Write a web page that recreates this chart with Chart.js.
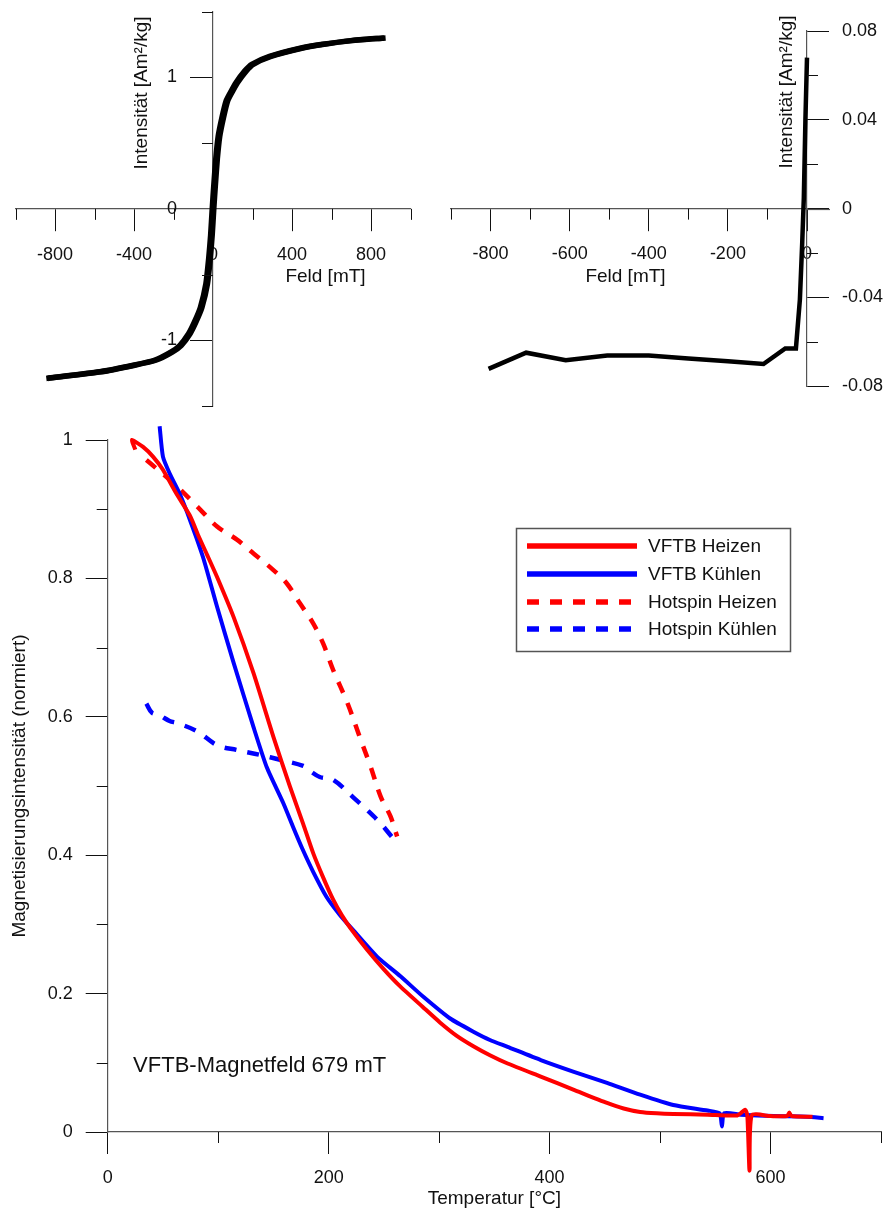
<!DOCTYPE html>
<html>
<head>
<meta charset="utf-8">
<title>Hysterese, Backfield und Thermomagnetik</title>
<script src="https://cdn.jsdelivr.net/npm/chart.js@4.4.0/dist/chart.umd.min.js"></script>
<style>
    html, body { margin: 0; padding: 0; background: #fff; }
    #page { position: relative; width: 888px; height: 1212px; overflow: hidden; background: #fff; }
    canvas { position: absolute; }
    #loopChart { left: 0; top: 0; }
    #backChart { left: 430px; top: 0; }
    #thermoChart { left: 0; top: 410px; }
</style>
</head>
<body>
<div id="page">
    <canvas id="loopChart" width="430" height="410"></canvas>
    <canvas id="backChart" width="458" height="410"></canvas>
    <canvas id="thermoChart" width="888" height="802"></canvas>
</div>
<script>
// --- Hystereseschleife (Feld in mT, Intensität in Am²/kg) ---
const hystDownH = [866, 696, 546, 436, 286, 196, 161, 116, 86, 66, 46, 26, 14, 4, -4, -12, -22, -36, -64, -94, -124, -169, -214, -294, -404, -574, -844];
const hystDownM = [1.30, 1.28, 1.25, 1.22, 1.16, 1.10, 1.05, 0.96, 0.88, 0.82, 0.70, 0.55, 0.38, 0.18, 0.0, -0.20, -0.38, -0.57, -0.75, -0.86, -0.95, -1.04, -1.09, -1.15, -1.19, -1.24, -1.29];
const hystUpH = [-836, -566, -396, -286, -206, -161, -116, -86, -56, -28, -14, -4, 4, 12, 22, 34, 54, 74, 94, 124, 169, 204, 294, 444, 554, 704, 874];
const hystUpM = [-1.29, -1.24, -1.19, -1.15, -1.09, -1.04, -0.95, -0.86, -0.75, -0.57, -0.38, -0.20, 0.0, 0.18, 0.38, 0.55, 0.70, 0.82, 0.88, 0.96, 1.05, 1.10, 1.16, 1.22, 1.25, 1.28, 1.30];
const hystMajorX = [-800, -400, 0, 400, 800];
const hystMinorX = [-1000, -600, -200, 200, 600, 1000];
const hystMajorY = [-1, 0, 1];
const hystMinorY = [-1.5, -0.5, 0.5, 1.5];

// --- Backfield-Kurve ---
const backH = [0, -4, -8, -12, -18, -28, -55, -110, -200, -300, -400, -505, -610, -710, -805];
const backM = [0.068, 0.040, 0.005, -0.015, -0.041, -0.063, -0.063, -0.070, -0.0688, -0.0675, -0.0662, -0.0662, -0.0683, -0.0649, -0.0722];
const backMajorX = [-800, -600, -400, -200, 0];
const backMinorX = [-900, -700, -500, -300, -100];
const backMajorY = [-0.08, -0.04, 0, 0.04, 0.08];
const backMinorY = [-0.06, -0.02, 0.02, 0.06];

// --- Thermomagnetische Kurven (Temperatur in °C, normierte Intensität) ---
const vftbHeatT = [25, 22, 32, 41, 50, 62, 75, 82, 90, 99, 114, 132, 150, 165, 177, 186, 195, 204, 212, 220, 235, 250, 265, 285, 301, 316, 331, 346, 362, 392, 422, 452, 467, 482, 497, 512, 543, 570, 577, 579, 581, 583, 600, 615, 617, 619, 638];
const vftbHeatM = [0.986, 1.0, 0.990, 0.976, 0.957, 0.923, 0.889, 0.862, 0.834, 0.802, 0.744, 0.663, 0.571, 0.499, 0.445, 0.403, 0.368, 0.336, 0.313, 0.294, 0.263, 0.235, 0.210, 0.181, 0.158, 0.139, 0.124, 0.111, 0.099, 0.080, 0.061, 0.042, 0.034, 0.029, 0.027, 0.026, 0.025, 0.024, 0.032, 0.024, -0.056, 0.024, 0.023, 0.023, 0.028, 0.023, 0.022];
const vftbCoolT = [648, 633, 603, 573, 558, 556, 554, 543, 512, 482, 452, 422, 392, 362, 346, 331, 310, 286, 265, 244, 222, 210, 198, 186, 176, 168, 159, 144, 132, 114, 99, 87, 80, 72, 65, 56, 50, 47];
const vftbCoolM = [0.020, 0.022, 0.023, 0.025, 0.027, 0.008, 0.027, 0.031, 0.039, 0.054, 0.071, 0.087, 0.104, 0.123, 0.133, 0.145, 0.164, 0.195, 0.225, 0.253, 0.292, 0.314, 0.340, 0.376, 0.410, 0.440, 0.475, 0.527, 0.585, 0.678, 0.759, 0.827, 0.860, 0.895, 0.923, 0.952, 0.976, 1.02];
const hsHeatT = [35, 60, 81, 99, 117, 132, 150, 162, 174, 186, 195, 204, 217, 229, 238, 247, 256, 262];
const hsHeatM = [0.971, 0.937, 0.904, 0.875, 0.856, 0.836, 0.812, 0.793, 0.764, 0.735, 0.706, 0.668, 0.620, 0.567, 0.528, 0.485, 0.456, 0.427];
const hsCoolT = [257, 247, 235, 222, 204, 192, 183, 177, 156, 138, 117, 99, 81, 63, 56, 46, 40, 35];
const hsCoolM = [0.427, 0.446, 0.465, 0.484, 0.509, 0.513, 0.522, 0.529, 0.538, 0.545, 0.552, 0.559, 0.579, 0.591, 0.594, 0.603, 0.606, 0.619];
const thermoMajorX = [0, 200, 400, 600];
const thermoMinorX = [100, 300, 500, 700];
const thermoMajorY = [0, 0.2, 0.4, 0.6, 0.8, 1];
const thermoMinorY = [0.1, 0.3, 0.5, 0.7, 0.9];

const FONT = "'Liberation Sans', Arial, sans-serif";
const AXIS_COLOR = '#555';
const TICK_COLOR = '#111';
Chart.defaults.font.family = FONT;
Chart.defaults.font.size = 18;
Chart.defaults.color = '#111';

const toPoints = (xs, ys) => xs.map((x, i) => ({ x: x, y: ys[i] }));
const fixedTicks = list => axis => { axis.ticks = list.map(v => ({ value: v })); };

function axisBase(min, max, position, major) {
    return {
        type: 'linear',
        min: min,
        max: max,
        position: position,
        grid: { drawOnChartArea: false, tickLength: 22, tickColor: TICK_COLOR, tickWidth: 1 },
        border: { color: AXIS_COLOR, width: 1.2 },
        ticks: { padding: 13, maxRotation: 0, autoSkip: false, callback: v => String(v) },
        afterBuildTicks: fixedTicks(major)
    };
}

// Minor ticks, extra labels, titles, legend box and note
const decor = {
    id: 'decor',
    afterDraw(chart, args, o) {
        const { ctx, chartArea: area } = chart;
        const xs = chart.scales.x, ys = chart.scales.y;
        ctx.save();

        if (o.extendX) {
            const y = Math.round(ys.getPixelForValue(0)) + 0.5;
            ctx.strokeStyle = AXIS_COLOR;
            ctx.lineWidth = 1.2;
            ctx.beginPath();
            ctx.moveTo(area.right, y);
            ctx.lineTo(area.right + o.extendX, y);
            ctx.stroke();
        }

        ctx.strokeStyle = TICK_COLOR;
        ctx.lineWidth = 1;
        (o.minor || []).forEach(m => {
            const s = m.axis === 'x' ? xs : ys;
            const base = m.axis === 'x' ? ys.getPixelForValue(m.at) : xs.getPixelForValue(m.at);
            m.values.forEach(v => {
                const p = Math.round(s.getPixelForValue(v)) + 0.5;
                ctx.beginPath();
                if (m.axis === 'x') { ctx.moveTo(p, base); ctx.lineTo(p, base + m.len); }
                else { ctx.moveTo(base, p); ctx.lineTo(base + m.len, p); }
                ctx.stroke();
            });
        });

        ctx.fillStyle = '#111';
        if (o.yLabels) {
            ctx.font = '18px ' + FONT;
            ctx.textAlign = 'right';
            ctx.textBaseline = 'middle';
            const x0 = xs.getPixelForValue(o.yLabels.at) + o.yLabels.dx;
            o.yLabels.values.forEach(v => ctx.fillText(String(v), x0, ys.getPixelForValue(v)));
        }

        (o.texts || []).forEach(t => {
            ctx.save();
            ctx.font = (t.size || 19) + 'px ' + FONT;
            ctx.textAlign = t.align || 'center';
            ctx.textBaseline = 'middle';
            const x = t.xv !== undefined ? xs.getPixelForValue(t.xv) : t.x;
            const y = t.yv !== undefined ? ys.getPixelForValue(t.yv) : t.y;
            ctx.translate(x, y);
            if (t.rot) ctx.rotate(t.rot * Math.PI / 180);
            ctx.fillText(t.text, 0, 0);
            ctx.restore();
        });

        if (o.legend) {
            const L = o.legend;
            ctx.strokeStyle = AXIS_COLOR;
            ctx.lineWidth = 1.5;
            ctx.strokeRect(L.x + 0.5, L.y + 0.5, L.w, L.h);
            ctx.font = '19px ' + FONT;
            ctx.textAlign = 'left';
            ctx.textBaseline = 'middle';
            chart.data.datasets.forEach((ds, i) => {
                const y = L.rows[i];
                ctx.strokeStyle = ds.borderColor;
                ctx.lineWidth = 5.5;
                ctx.setLineDash(ds.borderDash || []);
                ctx.beginPath();
                ctx.moveTo(L.x0, y);
                ctx.lineTo(L.x1, y);
                ctx.stroke();
                ctx.setLineDash([]);
                ctx.fillText(ds.label, L.textX, y + 1);
            });
        }
        ctx.restore();
    }
};

const noChrome = { legend: { display: false }, tooltip: { enabled: false } };

// Hystereseschleife
const loopX = axisBase(-1000, 1000, { y: 0 }, hystMajorX);
const loopY = axisBase(-1.5, 1.5, { x: 0 }, hystMajorY);
loopY.ticks.display = false;
new Chart(document.getElementById('loopChart'), {
    type: 'line',
    data: {
        datasets: [
            { label: 'ab', data: toPoints(hystDownH, hystDownM) },
            { label: 'auf', data: toPoints(hystUpH, hystUpM) }
        ].map(d => Object.assign(d, { borderColor: '#000', borderWidth: 5.5, pointRadius: 0, tension: 0.2, clip: false, borderJoinStyle: 'round' }))
    },
    options: {
        responsive: false,
        animation: false,
        devicePixelRatio: 1,
        layout: { padding: { left: 15.5, right: 19.5, top: 11.7, bottom: 4 } },
        scales: { x: loopX, y: loopY },
        plugins: Object.assign({}, noChrome, {
            decor: {
                minor: [
                    { axis: 'x', values: hystMinorX, at: 0, len: 11 },
                    { axis: 'y', values: hystMinorY, at: 0, len: -11 }
                ],
                yLabels: { values: hystMajorY, at: 0, dx: -36 },
                texts: [
                    { text: 'Intensität [Am²/kg]', x: 142, y: 93, rot: -90 },
                    { text: 'Feld [mT]', x: 325.5, y: 277 }
                ]
            }
        })
    },
    plugins: [decor]
});

// Backfield
const backX = axisBase(-900, 0, { y: 0 }, backMajorX);
const backY = axisBase(-0.08, 0.08, 'right', backMajorY);
backY.afterFit = s => { s.width = 81; };
new Chart(document.getElementById('backChart'), {
    type: 'line',
    data: {
        datasets: [{
            label: 'Backfield',
            data: toPoints(backH, backM),
            borderColor: '#000', borderWidth: 4.5, pointRadius: 0, tension: 0, clip: false, borderJoinStyle: 'miter'
        }]
    },
    options: {
        responsive: false,
        animation: false,
        devicePixelRatio: 1,
        layout: { padding: { left: 21, right: 0, top: 31, bottom: 23 } },
        scales: { x: backX, y: backY },
        plugins: Object.assign({}, noChrome, {
            decor: {
                extendX: 23,
                minor: [
                    { axis: 'x', values: backMinorX, at: 0, len: 11 },
                    { axis: 'y', values: backMinorY, at: 0, len: 11 }
                ],
                texts: [
                    { text: 'Intensität [Am²/kg]', x: 357, y: 92, rot: -90 },
                    { text: 'Feld [mT]', x: 195.5, y: 277 }
                ]
            }
        })
    },
    plugins: [decor]
});

// Thermomagnetik
const thermoX = axisBase(0, 700, 'bottom', thermoMajorX);
thermoX.afterFit = s => { s.height = 80; };
thermoX.title = { display: true, text: 'Temperatur [°C]', font: { size: 19 }, padding: { top: 0, bottom: 2 } };
const thermoY = axisBase(0, 1, 'left', thermoMajorY);
thermoY.afterFit = s => { s.width = 107.7; };
thermoY.title = { display: true, text: 'Magnetisierungsintensität (normiert)', font: { size: 19 }, padding: { top: 8.5, bottom: 0 } };

const lineStyle = { pointRadius: 0, clip: false, borderJoinStyle: 'round' };
new Chart(document.getElementById('thermoChart'), {
    type: 'line',
    data: {
        datasets: [
            Object.assign({ label: 'VFTB Heizen', data: toPoints(vftbHeatT, vftbHeatM), borderColor: '#ff0000', borderWidth: 4, tension: 0.2 }, lineStyle),
            Object.assign({ label: 'VFTB Kühlen', data: toPoints(vftbCoolT, vftbCoolM), borderColor: '#0000ff', borderWidth: 4, tension: 0.2 }, lineStyle),
            Object.assign({ label: 'Hotspin Heizen', data: toPoints(hsHeatT, hsHeatM), borderColor: '#ff0000', borderWidth: 4.5, borderDash: [12, 11], tension: 0.35 }, lineStyle),
            Object.assign({ label: 'Hotspin Kühlen', data: toPoints(hsCoolT, hsCoolM), borderColor: '#0000ff', borderWidth: 4.5, borderDash: [12, 11], tension: 0.35 }, lineStyle)
        ]
    },
    options: {
        responsive: false,
        animation: false,
        devicePixelRatio: 1,
        layout: { padding: { left: 0, right: 7, top: 30, bottom: 0 } },
        scales: { x: thermoX, y: thermoY },
        plugins: Object.assign({}, noChrome, {
            decor: {
                minor: [
                    { axis: 'x', values: thermoMinorX, at: 0, len: 11 },
                    { axis: 'y', values: thermoMinorY, at: 0, len: -11 }
                ],
                texts: [
                    { text: 'VFTB-Magnetfeld 679 mT', xv: 23, yv: 0.095, size: 22, align: 'left' }
                ],
                legend: { x: 516, y: 118, w: 274, h: 123, x0: 527, x1: 637, textX: 648, rows: [136, 164, 192, 219] }
            }
        })
    },
    plugins: [decor]
});
</script>
</body>
</html>
